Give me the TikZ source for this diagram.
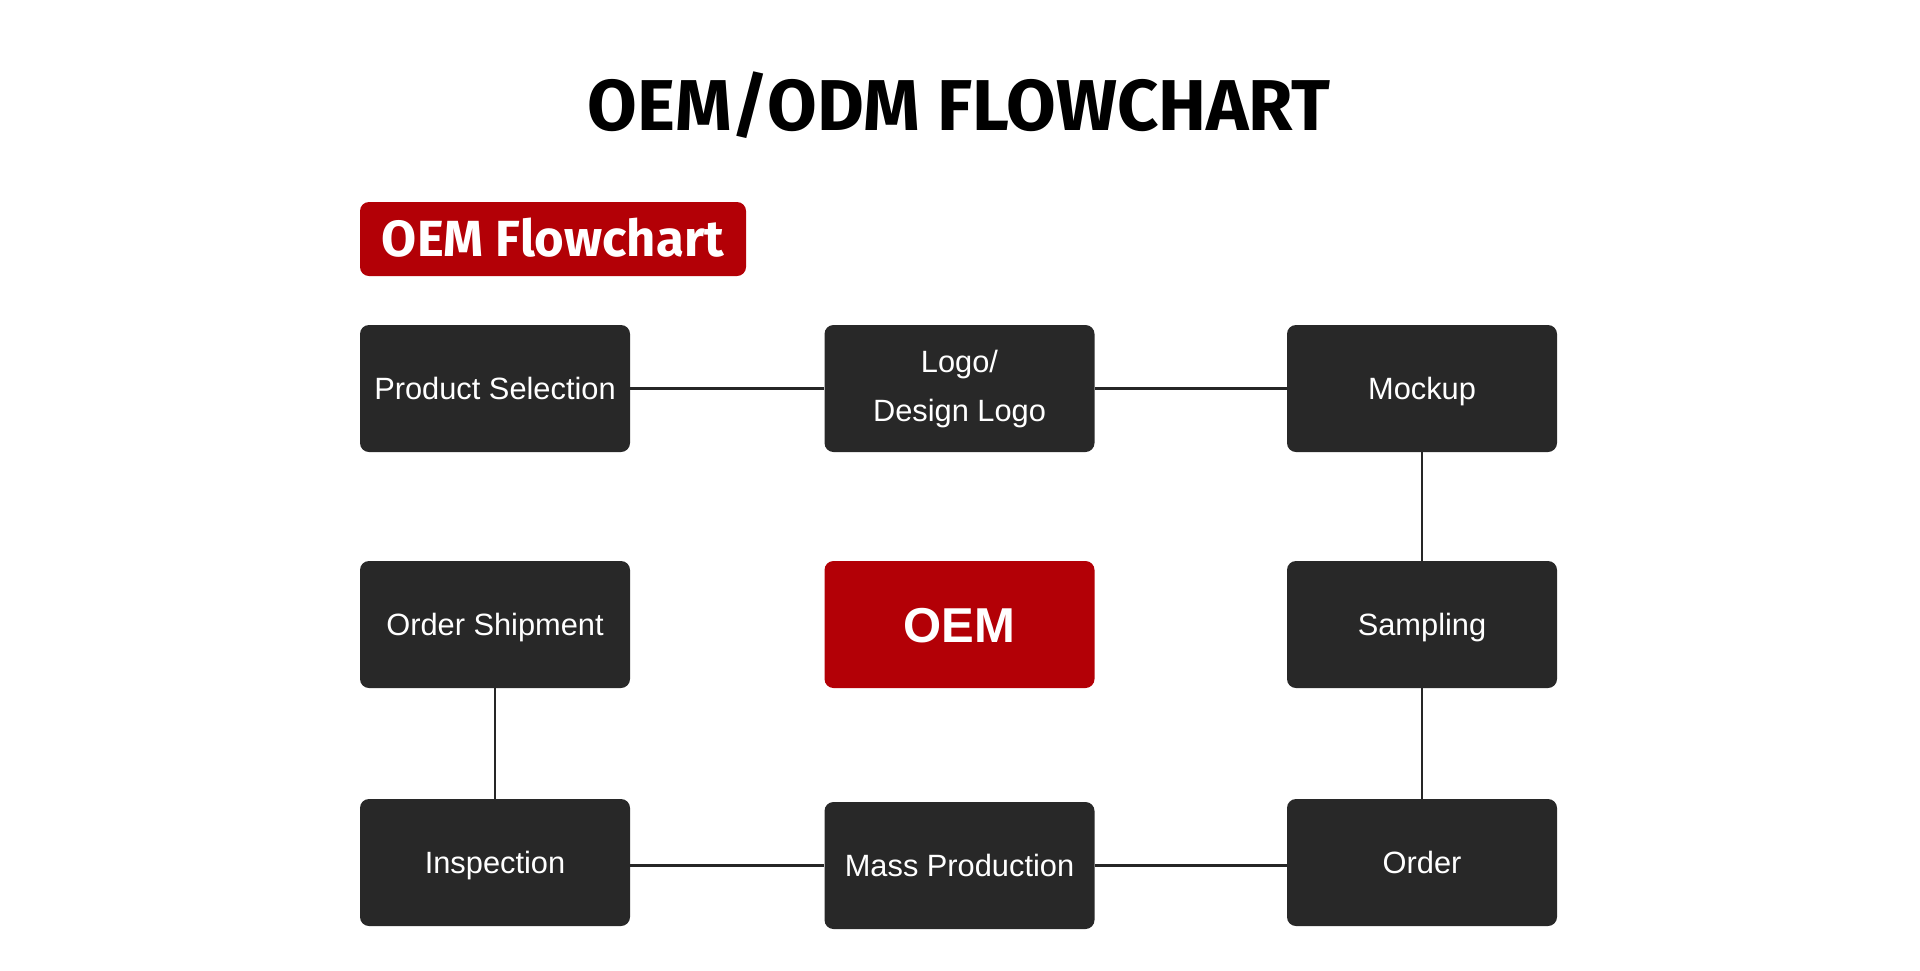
\documentclass[tikz,border=0pt]{standalone}
\usepackage{fontspec}
\setmainfont{Liberation Sans}
\newfontfamily\headfont{Fira Sans}
\definecolor{boxgray}{HTML}{282828}
\definecolor{oemred}{HTML}{B30006}
\definecolor{linegray}{HTML}{262626}

\begin{document}
\begin{tikzpicture}[x=0.5pt,y=-0.5pt,
	main node/.style={rectangle,rounded corners=4.5pt,fill=boxgray,text=white,inner sep=0pt,minimum width=135pt,minimum height=63.5pt,font=\fontsize{15.4}{24.5}\selectfont,text height=11pt,text depth=0pt},
	oem node/.style={main node,fill=oemred,font=\fontsize{24.5}{29}\selectfont\bfseries,text height=17.5pt},
	link/.style={draw=linegray,line width=1.35pt}
]
	\useasboundingbox (0,0) rectangle (1920,970);

	\def \ca {495};
	\def \cb {959.5};
	\def \cc {1422};

	\node[font=\headfont\fontsize{36}{40}\bfseries,anchor=base] (title) at (959,130) {OEM/ODM FLOWCHART};
	\node[fill=oemred,rounded corners=4.5pt,text=white,inner sep=0pt,minimum width=193pt,minimum height=37pt,font=\headfont\fontsize{25.4}{28}\bfseries,text height=17.5pt,text depth=0pt] (badge) at (553,239) {OEM Flowchart};

	\node[main node] (prodsel) at (\ca,388.5) {Product Selection};
	\node[main node,align=center,text height=35.5pt,text depth=3pt] (logo) at (\cb,388.5) {Logo/\\Design Logo};
	\node[main node] (mockup) at (\cc,388.5) {Mockup};

	\node[main node] (shipment) at (\ca,624.5) {Order Shipment};
	\node[oem node] (oem) at (\cb,624.5) {OEM};
	\node[main node] (sampling) at (\cc,624.5) {Sampling};

	\node[main node] (inspection) at (\ca,862.5) {Inspection};
	\node[main node] (massprod) at (\cb,865.5) {Mass Production};
	\node[main node] (order) at (\cc,862.5) {Order};

	\draw[link] (prodsel) -- (logo);
	\draw[link] (logo) -- (mockup);
	\draw[link] (mockup) -- (sampling);
	\draw[link] (sampling) -- (order);
	\draw[link] (shipment) -- (inspection);
	\draw[link] (inspection.east |- massprod.west) -- (massprod);
	\draw[link] (massprod) -- (order.west |- massprod.east);
\end{tikzpicture}
\end{document}
